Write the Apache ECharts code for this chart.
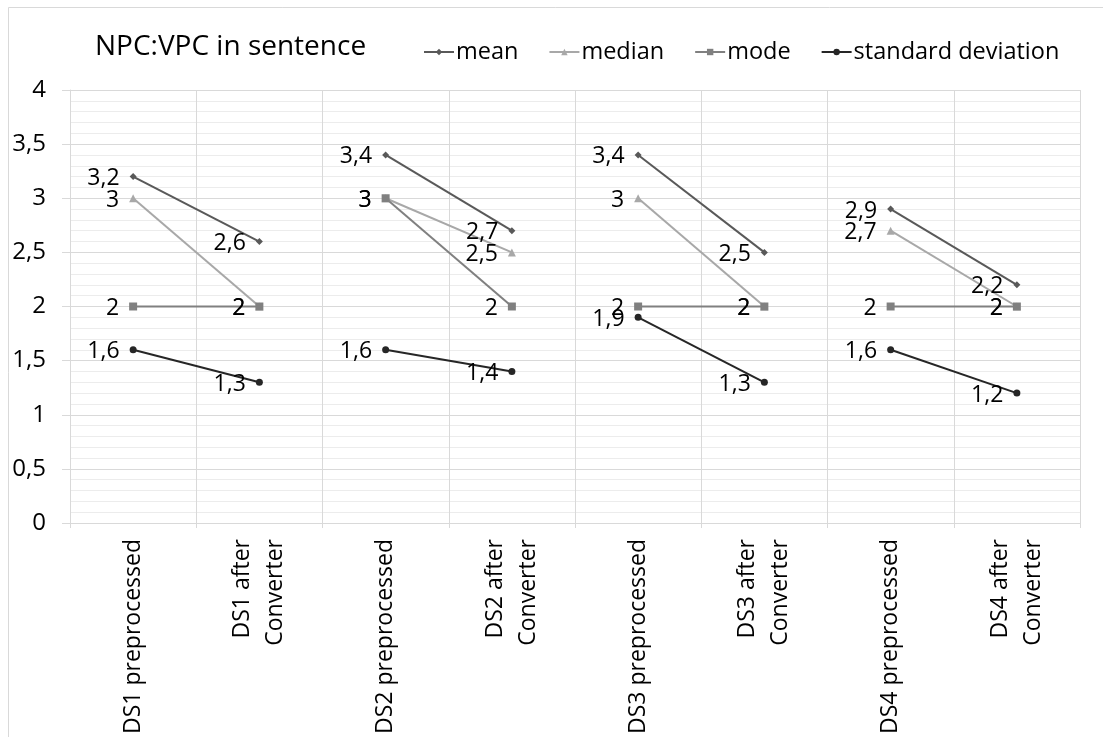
<!DOCTYPE html>
<html>
<head>
<meta charset="utf-8">
<script src="https://cdn.jsdelivr.net/npm/echarts@6/dist/echarts.min.js"></script>
<style>
  html, body { margin: 0; padding: 0; background: #fff; }
  #chart { width: 1103px; height: 737px; }
</style>
</head>
<body>
<div id="chart"></div>
<script>
// Categories along the x axis (each dataset before and after the converter)
const categories = [
  'DS1 preprocessed', 'DS1 after\nConverter',
  'DS2 preprocessed', 'DS2 after\nConverter',
  'DS3 preprocessed', 'DS3 after\nConverter',
  'DS4 preprocessed', 'DS4 after\nConverter'
];

// Statistic values, one per category
const meanValues   = [3.2, 2.6, 3.4, 2.7, 3.4, 2.5, 2.9, 2.2];
const medianValues = [3, 2, 3, 2.5, 3, 2, 2.7, 2];
const modeValues   = [2, 2, 3, 2, 2, 2, 2, 2];
const sdValues     = [1.6, 1.3, 1.6, 1.4, 1.9, 1.3, 1.6, 1.2];

const yTicks = { min: 0, max: 4, interval: 0.5 };

const FONT = '"Open Sans", "Noto Sans", sans-serif';
const fmt = v => String(v).replace('.', ',');

const metrics = [
  { name: 'mean', values: meanValues, color: '#595959', symbol: 'diamond', size: 7 },
  { name: 'median', values: medianValues, color: '#a8a8a8', symbol: 'triangle', size: 8 },
  { name: 'mode', values: modeValues, color: '#808080', symbol: 'rect', size: 8 },
  { name: 'standard deviation', values: sdValues, color: '#262626', symbol: 'circle', size: 7 }
];

// Each dataset pair is its own short line so the groups stay unconnected
const series = [];
metrics.forEach(m => {
  for (let p = 0; p < categories.length / 2; p++) {
    const data = categories.map((_, i) =>
      (i === 2 * p || i === 2 * p + 1) ? m.values[i] : '-');
    series.push({
      name: m.name,
      type: 'line',
      data: data,
      symbol: m.symbol,
      symbolSize: m.size,
      showAllSymbol: true,
      connectNulls: false,
      lineStyle: { color: m.color, width: 2 },
      itemStyle: { color: m.color },
      label: {
        show: true,
        position: 'left',
        distance: 10,
        offset: [0, 2],
        color: '#000',
        fontFamily: FONT,
        fontSize: 23,
        formatter: p2 => fmt(p2.value)
      },
      emphasis: { disabled: true },
      animation: false
    });
  }
});

const chart = echarts.init(document.getElementById('chart'), null, { renderer: 'canvas' });
chart.setOption({
  backgroundColor: '#fff',
  animation: false,
  title: {
    text: 'NPC:VPC in sentence',
    left: 90,
    top: 28,
    textStyle: { fontFamily: FONT, fontSize: 28, fontWeight: 'normal', color: '#000' }
  },
  legend: {
    data: metrics.map(m => m.name),
    left: 418,
    top: 35,
    itemWidth: 30,
    itemHeight: 8,
    itemGap: 30,
    textStyle: { fontFamily: FONT, fontSize: 23.5, color: '#000', padding: [0, 0, 0, -3] },
    selectedMode: false
  },
  // Chart-area frame along the top and left edges
  graphic: [
    {
      type: 'line',
      shape: { x1: 8.5, y1: 7.5, x2: 1103, y2: 7.5 },
      style: { stroke: '#d9d9d9', lineWidth: 1 },
      silent: true
    },
    {
      type: 'line',
      shape: { x1: 8.5, y1: 7.5, x2: 8.5, y2: 737 },
      style: { stroke: '#d9d9d9', lineWidth: 1 },
      silent: true
    }
  ],
  grid: { left: 70, right: 23, top: 90, bottom: 214 },
  xAxis: {
    type: 'category',
    data: categories,
    boundaryGap: true,
    axisLine: { show: true, lineStyle: { color: '#d9d9d9' } },
    axisTick: { show: true, length: 5, lineStyle: { color: '#d9d9d9' } },
    splitLine: { show: true, lineStyle: { color: '#d9d9d9' } },
    axisLabel: {
      rotate: 90,
      interval: 0,
      margin: 16,
      fontFamily: FONT,
      fontSize: 23,
      color: '#000',
      lineHeight: 33
    }
  },
  yAxis: {
    type: 'value',
    min: yTicks.min,
    max: yTicks.max,
    interval: yTicks.interval,
    axisLine: { show: true, lineStyle: { color: '#d9d9d9' } },
    axisTick: { show: true, length: 8, inside: false, lineStyle: { color: '#d9d9d9' } },
    minorTick: { show: false, splitNumber: 5 },
    minorSplitLine: { show: true, lineStyle: { color: '#ececec' } },
    splitLine: { show: true, lineStyle: { color: '#d9d9d9' } },
    axisLabel: {
      margin: 24,
      fontFamily: FONT,
      fontSize: 24,
      color: '#000',
      formatter: v => fmt(v)
    }
  },
  series: series
});
</script>
</body>
</html>
